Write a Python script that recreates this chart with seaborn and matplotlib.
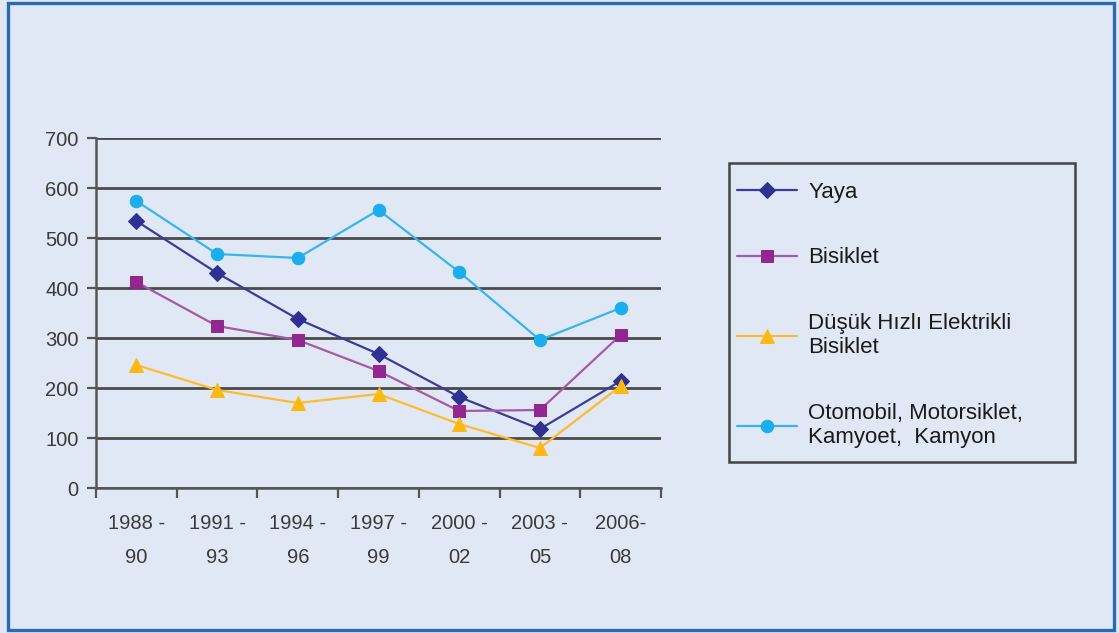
import matplotlib
matplotlib.use("Agg")
import matplotlib.pyplot as plt
from matplotlib.patches import Rectangle
import seaborn as sns
import pandas as pd

# Periods and series values
periods = ["1988 -\n90", "1991 -\n93", "1994 -\n96", "1997 -\n99", "2000 -\n02", "2003 -\n05", "2006-\n08"]
yaya = [534, 430, 338, 268, 182, 118, 214]
bisiklet = [412, 324, 296, 234, 154, 156, 306]
elektrikli = [246, 196, 170, 188, 128, 80, 204]
otomobil = [574, 468, 460, 556, 432, 296, 360]

series_names = ["Yaya", "Bisiklet", "Düşük Hızlı Elektrikli\nBisiklet",
                "Otomobil, Motorsiklet,\nKamyoet,  Kamyon"]
y_ticks = [0, 100, 200, 300, 400, 500, 600, 700]

line_colors = ["#3B3C9A", "#A45AA6", "#FDBB2F", "#37B6EE"]
marker_colors = ["#2E3192", "#92278F", "#FDB913", "#1BAEEC"]
markers = ["D", "s", "^", "o"]
marker_sizes = [8, 9, 10, 9]

rows = []
for name, vals in zip(series_names, [yaya, bisiklet, elektrikli, otomobil]):
    for i, v in enumerate(vals):
        rows.append({"idx": i, "value": v, "series": name})
df = pd.DataFrame(rows)

bg = "#E1E8F5"
sns.set_theme(style="white")
plt.rcParams["font.family"] = ["Liberation Sans", "DejaVu Sans"]

W, H = 1119, 633
fig = plt.figure(figsize=(W / 100, H / 100), dpi=100, facecolor=bg)
ax = fig.add_axes([96 / W, 1 - 488 / H, (661 - 96) / W, (488 - 138) / H])
ax.set_facecolor(bg)

sns.lineplot(data=df, x="idx", y="value", hue="series", style="series",
             hue_order=series_names, style_order=series_names,
             palette=dict(zip(series_names, line_colors)),
             markers=dict(zip(series_names, markers)), dashes=False,
             linewidth=1.6, ax=ax, legend=False)

for line, mc, ms in zip(ax.get_lines(), marker_colors, marker_sizes):
    line.set_markerfacecolor(mc)
    line.set_markeredgecolor(mc)
    line.set_markersize(ms)

ax.set_xlim(-0.5, 6.5)
ax.set_ylim(0, 700)
ax.set_yticks(y_ticks)
ax.set_yticklabels([str(t) for t in y_ticks])
ax.set_xticks(range(len(periods)))
ax.set_xticklabels(periods, linespacing=2.0)
ax.set_xticks([i - 0.5 for i in range(len(periods) + 1)], minor=True)
ax.tick_params(axis="x", which="major", length=0, pad=19, labelsize=14.5, labelcolor="#3A3A3A")
ax.tick_params(axis="x", which="minor", length=7, width=1.6, color="#555555", direction="out", bottom=True)
ax.tick_params(axis="y", length=6.5, width=1.6, color="#555555", left=True, pad=6,
               labelsize=14.5, labelcolor="#3A3A3A")

ax.grid(axis="y", color="#4A4A4A", linewidth=2.0)
ax.set_axisbelow(True)
for side in ["top", "right"]:
    ax.spines[side].set_visible(False)
for side in ["left", "bottom"]:
    ax.spines[side].set_color("#555555")
    ax.spines[side].set_linewidth(1.8)
ax.set_xlabel("")
ax.set_ylabel("")

# Legend built from the plotted lines, inside a fixed box
box = Rectangle((729 / W, 1 - 462 / H), (1075 - 729) / W, (462 - 163) / H,
                transform=fig.transFigure, facecolor=bg, edgecolor="#444444", linewidth=1.8)
fig.patches.append(box)
handles = ax.get_lines()[:4]
leg = fig.legend(handles, series_names, loc="upper left",
                 bbox_to_anchor=(737 / W, 1 - 182 / H),
                 bbox_transform=fig.transFigure, frameon=False,
                 prop={"family": ["Liberation Sans", "DejaVu Sans"], "size": 16},
                 labelspacing=2.0, handlelength=2.7, handletextpad=0.5, borderpad=0,
                 borderaxespad=0)
for t in leg.get_texts():
    t.set_color("#1A1A1A")
    t.set_linespacing(1.22)

# Blue frame around the figure
fig.patches.append(Rectangle((8 / W, 3 / H), 1106 / W, 627 / H,
                             transform=fig.transFigure, fill=False,
                             edgecolor="#2A6BB0", linewidth=2.4))

fig.savefig("out.png", dpi=100, facecolor=bg)
